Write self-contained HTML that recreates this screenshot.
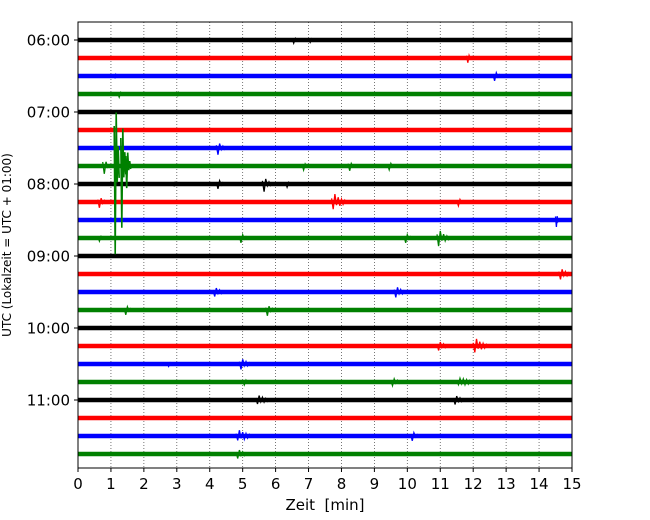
<!DOCTYPE html>
<html><head><meta charset="utf-8"><style>
body{margin:0;background:#fff}
svg{display:block;font-family:"DejaVu Sans","Liberation Sans",sans-serif}
</style></head><body>
<svg id="c" width="650" height="520"></svg>
<script>
const rowLabels=["06:00","07:00","08:00","09:00","10:00","11:00"];
const xTicks=[0,1,2,3,4,5,6,7,8,9,10,11,12,13,14,15];
const colors=["#000000","#ff0000","#0000ff","#008000"];
const nRows=24;
// events: row, minute, half-amplitude (px), duration (min)
const evRow=[0,0,1,2,2,3,3,6,7,7,7,7,7,7,7,8,8,8,8,9,9,9,10,11,11,11,11,13,14,14,15,15,17,17,18,18,19,19,19,20,20,22,22,23];
const evMin=[6.5,7.0,11.8,12.6,1.1,1.2,3.0,4.2,0.75,1.1,1.3,1.45,6.8,8.2,9.4,4.2,5.6,6.3,2.9,0.6,7.7,11.5,14.5,4.9,9.9,10.9,0.6,14.6,4.1,9.6,1.4,5.7,10.9,12.0,4.9,2.7,5.0,9.5,11.5,5.4,11.4,4.8,10.1,4.8];
const evAmp=[4,3,6,5,3,4,3,7,10,100,70,25,5,6,4,5,8,4,3,6,9,4,9,5,5,9,4,6,5,6,5,6,5,8,6,3,3,4,4,5,5,6,5,5];
const evDur=[0.2,0.2,0.15,0.3,0.1,0.2,0.1,0.3,0.2,0.15,0.15,0.15,0.2,0.2,0.3,0.3,0.3,0.2,0.1,0.3,0.5,0.3,0.1,0.3,0.3,0.4,0.2,0.4,0.4,0.4,0.3,0.3,0.4,0.5,0.4,0.2,0.3,0.4,0.8,0.5,0.4,0.6,0.3,0.4];

const L=78,R=572,T=22,B=468;
const X=m=>L+(R-L)*m/15;
const Y=r=>40+18*r;
const svg=document.getElementById('c');
const NS="http://www.w3.org/2000/svg";
function mk(t,a,p){const e=document.createElementNS(NS,t);for(const k in a)e.setAttribute(k,a[k]);(p||svg).appendChild(e);return e;}

const grid=mk('g',{});


xTicks.forEach(t=>{
  if(t>0&&t<15){mk('line',{x1:X(t),x2:X(t),y1:T,y2:B,stroke:'#555','stroke-width':0.8,'stroke-dasharray':'1,2'},grid);}
});

const tr=mk('g',{});


for(let r=0;r<nRows;r++){
  const l=mk('line',{x1:L,x2:R,y1:Y(r),y2:Y(r),stroke:colors[r%4],'stroke-width':4.5},tr);
  
  
}
for(let i=0;i<evRow.length;i++){
  const r=evRow[i],m=evMin[i],a=evAmp[i],d=evDur[i];
  const big=a>20;
  const step=big?0.03:0.05;
  const n=Math.max(4,Math.round(d/step));
  let pts=[];
  for(let k=0;k<=n;k++){
    const f=k/n;const env=a*(f<0.15?(0.4+0.6*f/0.15):Math.exp(-(f-0.15)*2.5));
    const w=(k%3===0)?0.5:1;
    pts.push((X(m)+(X(m+d)-X(m))*f).toFixed(1)+','+(Y(r)+(k%2?env*w:-env)).toFixed(1));
  }
  const p=mk('polyline',{points:pts.join(' '),fill:'none',stroke:colors[r%4],'stroke-width':big?1.6:1.3},tr);
  
  
}

const ax=mk('rect',{x:L,y:T,width:R-L,height:B-T,fill:'none',stroke:'#000','stroke-width':1});



const xt=mk('g',{});


xTicks.forEach(t=>{
  mk('line',{x1:X(t),x2:X(t),y1:B,y2:B+4,stroke:'#000'},xt);
  const s=mk('text',{x:X(t),y:B+21,'text-anchor':'middle','font-size':15},xt);s.textContent=t;
  
  
});
const yt=mk('g',{});


rowLabels.forEach((lab,i)=>{
  const y=Y(i*4);
  mk('line',{x1:L-4,x2:L,y1:y,y2:y,stroke:'#000'},yt);
  const s=mk('text',{x:L-8,y:y+5.5,'text-anchor':'end','font-size':15},yt);s.textContent=lab;
  
  
});
const xl=mk('text',{x:325,y:510,'text-anchor':'middle','font-size':15,style:'white-space:pre'});xl.textContent='Zeit  [min]';


const yl=mk('text',{x:0,y:0,'text-anchor':'middle','font-size':12,transform:'translate(11,245) rotate(-90)'});yl.textContent='UTC (Lokalzeit = UTC + 01:00)';


</script>
</body></html>
